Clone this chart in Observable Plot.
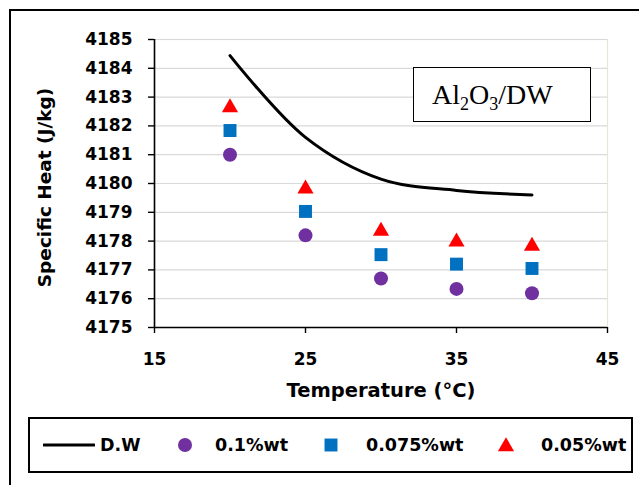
<!DOCTYPE html>
<html>
<head>
<meta charset="utf-8">
<script src="https://cdn.jsdelivr.net/npm/d3@7"></script>
<script src="https://cdn.jsdelivr.net/npm/@observablehq/plot@0.6"></script>
<style>
  html, body { margin: 0; padding: 0; background: #fff; }
  #wrap { position: relative; width: 639px; height: 485px; overflow: hidden; background: #fff; }
  #outer { position: absolute; left: 9px; top: 9px; width: 800px; height: 800px;
           border-left: 2px solid #000; border-top: 2px solid #000; box-sizing: border-box; }
  #chart { position: absolute; left: 0; top: 0; }
  #inset { position: absolute; left: 413px; top: 67px; width: 178px; height: 55px;
           border: 1.5px solid #000; box-sizing: border-box; background: #fff;
           font-family: "Liberation Serif", "DejaVu Serif", serif; font-size: 28px;
           color: #000; }
  #inset span { position: absolute; left: 18px; top: 13px; line-height: 28px; white-space: nowrap; }
  #inset sub { font-size: 18px; vertical-align: -6px; line-height: 0; }
  #legend { position: absolute; left: 28px; top: 417px; width: 605px; height: 56px;
            border: 2px solid #000; box-sizing: border-box; background: #fff;
            font-family: "DejaVu Sans", sans-serif; font-weight: bold; font-size: 17.5px; color: #000; }
  #legend .it { position: absolute; top: 0; height: 52px; display: flex; align-items: center; }
  #legend svg { display: block; }
</style>
</head>
<body>
<div id="wrap">
  <div id="outer"></div>
  <div id="chart"></div>
  <div id="inset"><span>Al<sub>2</sub>O<sub>3</sub>/DW</span></div>
  <div id="legend"></div>
</div>
<script>
// ---- data ----
const temperature = [20, 25, 30, 35, 40];
const dw      = [4184.44, 4181.60, 4180.15, 4179.76, 4179.60];
const wt010   = [4181.00, 4178.20, 4176.70, 4176.34, 4176.19];
const wt0075  = [4181.84, 4179.03, 4177.53, 4177.20, 4177.05];
const wt005   = [4182.69, 4179.87, 4178.40, 4178.03, 4177.88];
const xTicks = [15, 25, 35, 45];
const yTicks = [4175, 4176, 4177, 4178, 4179, 4180, 4181, 4182, 4183, 4184, 4185];
const xDomain = [15, 45];
const yDomain = [4175, 4185];
const seriesNames = ["D.W", "0.1%wt", "0.075%wt", "0.05%wt"];
const colors = { purple: "#7030A0", blue: "#0070C0", red: "#FF0000" };

const rows = (vals) => temperature.map((t, i) => ({ t, v: vals[i] }));

const font = "DejaVu Sans, sans-serif";
const fmt = d3.format("d");

const plot = Plot.plot({
  width: 639,
  height: 415,
  marginTop: 39,
  marginLeft: 154,
  marginRight: 32,
  marginBottom: 88,
  style: { fontFamily: font, background: "transparent", overflow: "visible" },
  x: { domain: xDomain, ticks: xTicks },
  y: { domain: yDomain, ticks: yTicks },
  marks: [
    Plot.frame({ stroke: "#e8e5d8", strokeWidth: 1.2 }),
    Plot.gridY(yTicks, { stroke: "#d9d9d9", strokeOpacity: 1, strokeWidth: 1.2 }),
    Plot.ruleX([xDomain[0]], { stroke: "#000", strokeWidth: 1.6 }),
    Plot.ruleY([yDomain[0]], { stroke: "#000", strokeWidth: 1.6 }),
    Plot.axisY(yTicks, { tickSize: 6, tickPadding: 16, tickFormat: fmt, fontSize: 17, fontWeight: "bold", label: null, strokeWidth: 1.4, fill: "#000" }),
    Plot.axisX(xTicks, { tickSize: 6, tickPadding: 19, tickFormat: fmt, fontSize: 17, fontWeight: "bold", label: null, strokeWidth: 1.4, fill: "#000" }),
    Plot.line(rows(dw), { x: "t", y: "v", stroke: "#000", strokeWidth: 3, curve: "catmull-rom" }),
    Plot.dot(rows(wt010), { x: "t", y: "v", symbol: "circle", r: 7, fill: colors.purple, stroke: "none" }),
    Plot.dot(rows(wt0075), { x: "t", y: "v", symbol: "square", r: 7.3, fill: colors.blue, stroke: "none" }),
    Plot.dot(rows(wt005), { x: "t", y: "v", symbol: "triangle", r: 6, fill: colors.red, stroke: "none", dy: 1.5 }),
    Plot.text(["Specific Heat (J/kg)"], { frameAnchor: "left", textAnchor: "middle", text: d => d, rotate: -90, dx: -109, dy: 4, fontSize: 18.5, fontWeight: "bold", fill: "#000" }),
    Plot.text(["Temperature (°C)"], { frameAnchor: "bottom", textAnchor: "middle", text: d => d, dy: 69, fontSize: 19.5, fontWeight: "bold", fill: "#000" })
  ]
});
document.getElementById("chart").appendChild(plot);

// ---- legend ----
const legend = document.getElementById("legend");
const symbolSvg = (kind) => {
  const ns = "http://www.w3.org/2000/svg";
  const s = document.createElementNS(ns, "svg");
  if (kind === "line") {
    s.setAttribute("width", 52); s.setAttribute("height", 10);
    const l = document.createElementNS(ns, "line");
    l.setAttribute("x1", 1); l.setAttribute("x2", 51); l.setAttribute("y1", 5); l.setAttribute("y2", 5);
    l.setAttribute("stroke", "#000"); l.setAttribute("stroke-width", 3); l.setAttribute("stroke-linecap", "round");
    s.appendChild(l);
    return s;
  }
  s.setAttribute("width", 18); s.setAttribute("height", 18);
  const p = document.createElementNS(ns, "path");
  const sym = kind === "circle" ? d3.symbolCircle : kind === "square" ? d3.symbolSquare : d3.symbolTriangle;
  const r = kind === "circle" ? 7 : kind === "square" ? 7.3 : 6;
  p.setAttribute("d", d3.symbol(sym, Math.PI * r * r)());
  p.setAttribute("transform", kind === "triangle" ? "translate(9,10.5)" : "translate(9,9)");
  p.setAttribute("fill", kind === "circle" ? colors.purple : kind === "square" ? colors.blue : colors.red);
  s.appendChild(p);
  return s;
};
const items = [
  { kind: "line", sx: 13, tx: 70, name: seriesNames[0] },
  { kind: "circle", sx: 146, tx: 185, name: seriesNames[1] },
  { kind: "square", sx: 292, tx: 336, name: seriesNames[2] },
  { kind: "triangle", sx: 467, tx: 511, name: seriesNames[3] }
];
for (const it of items) {
  const a = document.createElement("div");
  a.className = "it"; a.style.left = it.sx + "px";
  a.appendChild(symbolSvg(it.kind));
  legend.appendChild(a);
  const b = document.createElement("div");
  b.className = "it"; b.style.left = it.tx + "px";
  b.textContent = it.name;
  legend.appendChild(b);
}
</script>
</body>
</html>
